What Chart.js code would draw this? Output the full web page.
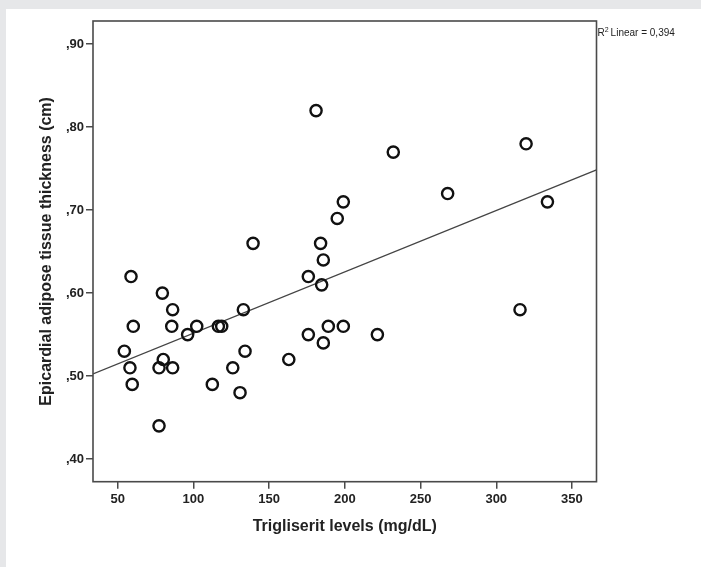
<!DOCTYPE html>
<html>
<head>
<meta charset="utf-8">
<script src="https://cdn.jsdelivr.net/npm/chart.js@4/dist/chart.umd.min.js"></script>
<style>
  html, body { margin: 0; padding: 0; background: #e6e7e9; }
  canvas { display: block; }
</style>
</head>
<body>
<canvas id="c" width="701" height="567"></canvas>
<script>
// Data
const trigliseritLevels = [58.8, 79.5, 86.3, 60.3, 85.7, 96.2, 102.2, 116.5, 118.7, 133,
  54.4, 58.1, 77.3, 80.1, 86.3, 59.6, 77.3, 112.5, 126, 134.1,
  130.8, 163, 181, 232, 319.7, 267.9, 333.8, 199, 195, 184,
  185.8, 175.9, 184.7, 315.7, 189.1, 199, 175.9, 221.5, 185.8, 139.4];
const eatThickness = [0.62, 0.60, 0.58, 0.56, 0.56, 0.55, 0.56, 0.56, 0.56, 0.58,
  0.53, 0.51, 0.51, 0.52, 0.51, 0.49, 0.44, 0.49, 0.51, 0.53,
  0.48, 0.52, 0.82, 0.77, 0.78, 0.72, 0.71, 0.71, 0.69, 0.66,
  0.64, 0.62, 0.61, 0.58, 0.56, 0.56, 0.55, 0.55, 0.54, 0.66];
const fitLineX = [33.7, 366.2];
const fitLineY = [0.5026, 0.7486];
const xTickValues = [50, 100, 150, 200, 250, 300, 350];
const yTickValues = [0.40, 0.50, 0.60, 0.70, 0.80, 0.90];
const r2Label = "0,394";

const FONT = "'Liberation Sans', Arial, Helvetica, sans-serif";
const FRAME = '#4a4a4a';

const bgPlugin = {
  id: 'bg',
  beforeDraw(chart) {
    const ctx = chart.ctx;
    ctx.save();
    ctx.fillStyle = '#e6e7e9';
    ctx.fillRect(0, 0, chart.width, chart.height);
    ctx.fillStyle = '#ffffff';
    ctx.fillRect(6, 9, chart.width - 6, chart.height - 9);
    ctx.restore();
  },
  afterDraw(chart) {
    const ctx = chart.ctx;
    const a = chart.chartArea;
    ctx.save();
    ctx.strokeStyle = FRAME;
    ctx.lineWidth = 1.6;
    ctx.strokeRect(a.left, a.top, a.right - a.left, a.bottom - a.top);
    // R² annotation
    ctx.fillStyle = '#222';
    ctx.textBaseline = 'alphabetic';
    ctx.textAlign = 'left';
    let x = a.right + 1;
    const y = 36;
    ctx.font = '10px ' + FONT;
    ctx.fillText('R', x, y);
    x += ctx.measureText('R').width;
    ctx.font = '7px ' + FONT;
    ctx.fillText('2', x, y - 4);
    x += ctx.measureText('2').width + 2;
    ctx.font = '10px ' + FONT;
    ctx.fillText('Linear = ' + r2Label, x, y);
    ctx.restore();
  }
};

const points = trigliseritLevels.map((v, i) => ({ x: v, y: eatThickness[i] }));
const fitPoints = fitLineX.map((v, i) => ({ x: v, y: fitLineY[i] }));

new Chart(document.getElementById('c'), {
  type: 'scatter',
  data: {
    datasets: [
      {
        type: 'line',
        data: fitPoints,
        borderColor: '#444',
        borderWidth: 1.3,
        pointRadius: 0,
        fill: false,
        order: 2
      },
      {
        data: points,
        pointRadius: 5.6,
        pointBorderWidth: 2.4,
        borderColor: '#111',
        backgroundColor: 'rgba(0,0,0,0)',
        pointHoverRadius: 5.6,
        order: 1
      }
    ]
  },
  options: {
    responsive: false,
    devicePixelRatio: 1,
    animation: false,
    layout: { padding: { left: 0, top: 21, right: 104.5, bottom: 0 } },
    plugins: { legend: { display: false }, tooltip: { enabled: false } },
    scales: {
      x: {
        type: 'linear',
        min: 33.7,
        max: 366.2,
        afterFit(scale) { scale.height = 567 - 481.7; },
        afterBuildTicks(scale) { scale.ticks = xTickValues.map(v => ({ value: v })); },
        grid: { drawOnChartArea: false, drawTicks: true, tickLength: 7, color: FRAME, lineWidth: 1.5 },
        border: { display: false },
        ticks: {
          padding: 3,
          color: '#222',
          font: { family: FONT, size: 13, weight: 'bold' },
          maxRotation: 0,
          callback: v => String(v)
        },
        title: {
          display: true,
          text: 'Trigliserit levels (mg/dL)',
          color: '#222',
          font: { family: FONT, size: 16, weight: 'bold' },
          padding: { top: 0, bottom: 30.5 }
        }
      },
      y: {
        type: 'linear',
        min: 0.3727,
        max: 0.928,
        afterFit(scale) { scale.width = 93; },
        afterBuildTicks(scale) { scale.ticks = yTickValues.map(v => ({ value: v })); },
        grid: { drawOnChartArea: false, drawTicks: true, tickLength: 7, color: FRAME, lineWidth: 1.5 },
        border: { display: false },
        ticks: {
          padding: 2,
          color: '#222',
          font: { family: FONT, size: 13, weight: 'bold' },
          callback: v => ',' + Math.round(v * 100).toString().padStart(2, '0')
        },
        title: {
          display: true,
          text: 'Epicardial adipose tissue thickness (cm)',
          color: '#222',
          font: { family: FONT, size: 16, weight: 'bold' },
          padding: { top: 37.4, bottom: 0 }
        }
      }
    }
  },
  plugins: [bgPlugin]
});
</script>
</body>
</html>
